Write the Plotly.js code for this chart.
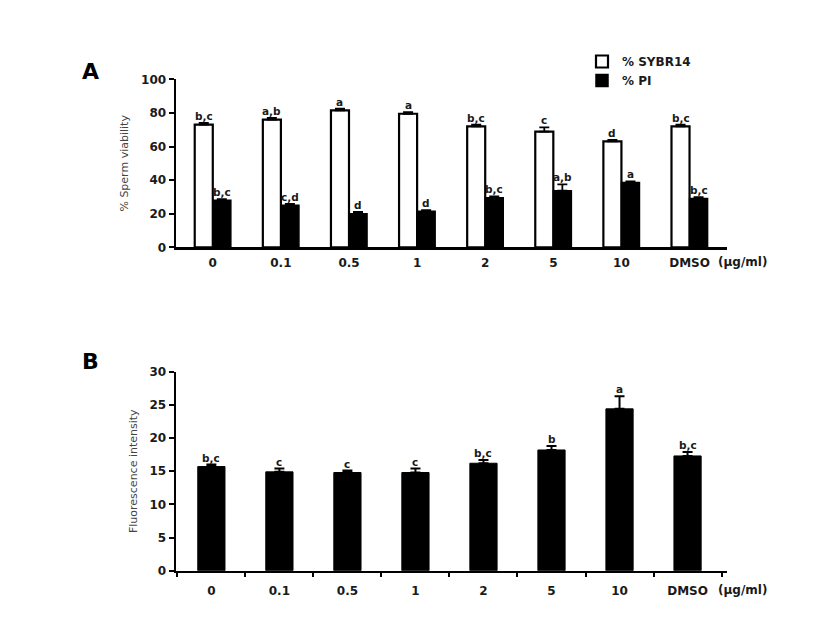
<!DOCTYPE html>
<html><head><meta charset="utf-8">
<script src="https://cdn.plot.ly/plotly-3.0.1.min.js"></script>
<style>html,body{margin:0;padding:0;background:#fff}#plot{width:827px;height:637px}</style>
</head><body><div id="plot"></div>
<script>
// Data
var categories = ["0", "0.1", "0.5", "1", "2", "5", "10", "DMSO"];
var sybr14 = [73, 76, 81.5, 79.5, 72, 68.8, 63, 72];
var sybr14Err = [1, 1, 1, 1, 1, 2.6, 1, 1];
var sybr14Letters = ["b,c", "a,b", "a", "a", "b,c", "c", "d", "b,c"];
var pi = [28, 25, 20, 21.5, 29.5, 33.7, 38.5, 29];
var piErr = [0.6, 0.8, 1, 0.6, 0.8, 3.8, 0.8, 0.8];
var piLetters = ["b,c", "c,d", "d", "d", "b,c", "a,b", "a", "b,c"];
var fluor = [15.7, 14.9, 14.8, 14.8, 16.2, 18.2, 24.4, 17.3];
var fluorErr = [0.3, 0.5, 0.3, 0.6, 0.5, 0.6, 1.9, 0.6];
var fluorLetters = ["b,c", "c", "c", "c", "b,c", "b", "a", "b,c"];

var W = 827, H = 637;
var FONT = "DejaVu Sans, Arial, sans-serif";
var TXT = "#1a1a1a";
var bargapA = 0.47;
var halfA = (1 - bargapA) / 4;

var traces = [
  {type: "bar", name: "% SYBR14", x: categories, y: sybr14, xaxis: "x", yaxis: "y",
   marker: {color: "#ffffff", line: {color: "#000", width: 2.2}},
   error_y: {type: "data", array: sybr14Err, arrayminus: sybr14Err.map(function(){return 0;}), symmetric: false, color: "#000", thickness: 1.8, width: 5}},
  {type: "bar", name: "% PI", x: categories, y: pi, xaxis: "x", yaxis: "y",
   marker: {color: "#000000", line: {color: "#000", width: 1.5}},
   error_y: {type: "data", array: piErr, arrayminus: piErr.map(function(){return 0;}), symmetric: false, color: "#000", thickness: 1.8, width: 5}},
  {type: "bar", name: "Fluorescence", x: categories, y: fluor, xaxis: "x2", yaxis: "y2", showlegend: false,
   marker: {color: "#000000", line: {color: "#000", width: 1}}, width: 0.4,
   error_y: {type: "data", array: fluorErr, arrayminus: fluorErr.map(function(){return 0;}), symmetric: false, color: "#000", thickness: 2, width: 5}}
];

var letterFont = {family: FONT, size: 10.5, color: TXT, weight: "bold"};
var annotations = [];
categories.forEach(function(c, i) {
  annotations.push({xref: "x", yref: "y", x: i - halfA, y: sybr14[i] + sybr14Err[i], text: sybr14Letters[i],
    showarrow: false, yanchor: "bottom", font: letterFont, yshift: -1});
  annotations.push({xref: "x", yref: "y", x: i + halfA, y: pi[i] + piErr[i], text: piLetters[i],
    showarrow: false, yanchor: "bottom", font: letterFont, yshift: -1});
  annotations.push({xref: "x2", yref: "y2", x: i, y: fluor[i] + fluorErr[i], text: fluorLetters[i],
    showarrow: false, yanchor: "bottom", font: letterFont, yshift: -1});
});
// panel letters
annotations.push({xref: "paper", yref: "paper", x: 80 / W, y: 1 - 72 / H, text: "A", showarrow: false,
  xanchor: "left", yanchor: "middle", font: {family: FONT, size: 22, color: "#000", weight: "bold"}});
annotations.push({xref: "paper", yref: "paper", x: 80 / W, y: 1 - 362 / H, text: "B", showarrow: false,
  xanchor: "left", yanchor: "middle", font: {family: FONT, size: 22, color: "#000", weight: "bold"}});
// unit labels
annotations.push({xref: "paper", yref: "paper", x: 716 / W, y: 1 - 262 / H, text: "(μg/ml)", showarrow: false,
  xanchor: "left", yanchor: "middle", font: {family: FONT, size: 12, color: TXT, weight: "bold"}});
annotations.push({xref: "paper", yref: "paper", x: 716 / W, y: 1 - 590 / H, text: "(μg/ml)", showarrow: false,
  xanchor: "left", yanchor: "middle", font: {family: FONT, size: 12, color: TXT, weight: "bold"}});

var xdom = [176 / W, 727 / W];
var tickFont = {family: FONT, size: 12, color: TXT, weight: "bold"};
var layout = {
  width: W, height: H,
  margin: {l: 0, r: 0, t: 0, b: 0},
  paper_bgcolor: "#fff", plot_bgcolor: "#fff",
  barmode: "group", bargap: bargapA, bargroupgap: 0,
  showlegend: true,
  legend: {x: 582 / W, y: 1 - 47 / H, xanchor: "left", yanchor: "top", bgcolor: "rgba(0,0,0,0)",
    font: {family: FONT, size: 12, color: TXT, weight: "bold"}, tracegroupgap: 0, itemwidth: 30},
  xaxis: {domain: xdom, anchor: "y", type: "category", range: [-0.54, 7.55], showline: true, linecolor: "#000", linewidth: 2.5,
    ticks: "", ticklabelstandoff: 3, tickfont: tickFont, showgrid: false, zeroline: false, fixedrange: true},
  yaxis: {domain: [1 - 247.3 / H, 1 - 79.3 / H], anchor: "x", range: [0, 100], dtick: 20, showline: true, linecolor: "#000", linewidth: 2.5,
    ticks: "outside", ticklen: 5, tickwidth: 2, tickcolor: "#000", tickfont: tickFont, showgrid: false, zeroline: false,
    title: {text: "% Sperm viability", font: {family: FONT, size: 11, color: "#444"}, standoff: 10}},
  xaxis2: {domain: xdom, anchor: "y2", type: "category", range: [-0.52, 7.58], showline: true, linecolor: "#000", linewidth: 2.5,
    ticks: "outside", tickson: "boundaries", ticklen: 4, tickwidth: 2, tickcolor: "#000", tickfont: tickFont, ticklabelstandoff: 7,
    showgrid: false, zeroline: false},
  yaxis2: {domain: [1 - 570.7 / H, 1 - 371.7 / H], anchor: "x2", range: [0, 30], dtick: 5, showline: true, linecolor: "#000", linewidth: 2.5,
    ticks: "outside", ticklen: 5, tickwidth: 2, tickcolor: "#000", tickfont: tickFont, showgrid: false, zeroline: false,
    title: {text: "Fluorescence intensity", font: {family: FONT, size: 11, color: "#444"}, standoff: 10}},
  annotations: annotations
};
Plotly.newPlot("plot", traces, layout, {displayModeBar: false, staticPlot: true});
</script></body></html>
